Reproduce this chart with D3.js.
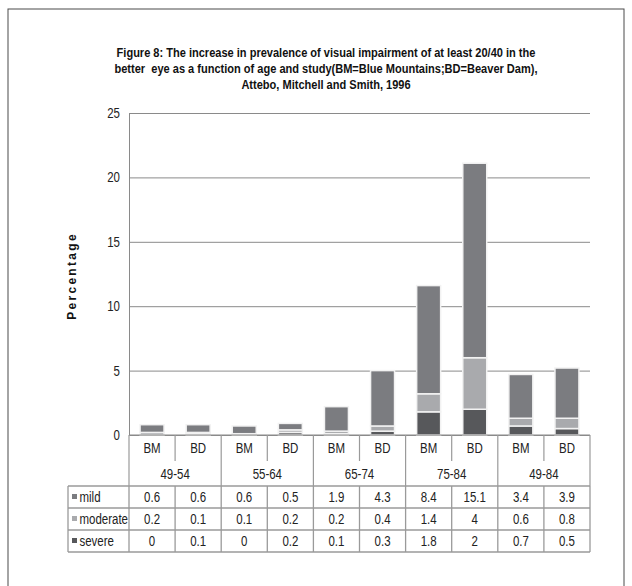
<!DOCTYPE html>
<html>
<head>
<meta charset="utf-8">
<script src="https://cdn.jsdelivr.net/npm/d3@7"></script>
<style>
  html, body { margin: 0; padding: 0; background: #fff; }
  svg { display: block; font-family: "Liberation Sans", Arial, sans-serif; }
</style>
</head>
<body>
<svg id="chart" width="632" height="586"></svg>
<script>
// ---- data ----
const groups = ["49-54", "55-64", "65-74", "75-84", "49-84"];
const studies = ["BM", "BD"];
const seriesNames = ["mild", "moderate", "severe"];
const mild     = [0.6, 0.6, 0.6, 0.5, 1.9, 4.3, 8.4, 15.1, 3.4, 3.9];
const moderate = [0.2, 0.1, 0.1, 0.2, 0.2, 0.4, 1.4, 4, 0.6, 0.8];
const severe   = [0, 0.1, 0, 0.2, 0.1, 0.3, 1.8, 2, 0.7, 0.5];
const yTicks = [0, 5, 10, 15, 20, 25];
const titleLines = [
  "Figure 8: The increase in prevalence of visual impairment of at least 20/40 in the",
  "better  eye as a function of age and study(BM=Blue Mountains;BD=Beaver Dam),",
  "Attebo, Mitchell and Smith, 1996"
];

(function () {
// ---- build ----
const colors = { mild: "#7b7c80", moderate: "#a9aaad", severe: "#57585b" };
const values = { mild, moderate, severe };
const rows = mild.map((m, i) => ({ idx: i, mild: m, moderate: moderate[i], severe: severe[i] }));
const FS = 14, SX = 0.82;
const tr = (px, py, sx) => `translate(${px},${py}) scale(${sx},1)`;

const svg = d3.select("#chart");
const pLeft = 129, pRight = 590, pTop = 113, pBase = 435;
const legendLeft = 68;

// outer frame
svg.append("rect").attr("x", 8).attr("y", 9).attr("width", 616).attr("height", 620)
  .attr("fill", "none").attr("stroke", "#4a4a4a").attr("stroke-width", 1);

// title
svg.append("g").selectAll("text").data(titleLines).join("text")
  .attr("transform", (d, i) => tr(326, 57 + i * 16, 0.85))
  .attr("text-anchor", "middle").attr("font-size", 13).attr("font-weight", "bold")
  .attr("fill", "#111").attr("xml:space", "preserve").text(d => d);

const x = d3.scaleBand().domain(d3.range(mild.length)).range([pLeft, pRight]).padding(0);
const y = d3.scaleLinear().domain([0, 25]).range([pBase, pTop]);

// y axis with gridlines
const yAxis = d3.axisLeft(y).tickValues(yTicks).tickSizeInner(-(pRight - pLeft)).tickSizeOuter(0).tickPadding(9);
const gy = svg.append("g").attr("transform", `translate(${pLeft},0)`).call(yAxis);
gy.selectAll(".tick line").attr("stroke", "#8a8a8a").attr("stroke-width", 1);
gy.select(".domain").attr("stroke", "#8a8a8a");
gy.selectAll(".tick text").attr("font-size", FS).attr("fill", "#222")
  .attr("font-family", "'Liberation Sans', Arial, sans-serif")
  .attr("x", null)
  .attr("transform", `translate(-9,0) scale(${SX},1)`);

// y label
svg.append("text").attr("transform", `translate(76,276) rotate(-90)`)
  .attr("text-anchor", "middle").attr("font-size", 12).attr("font-weight", "bold")
  .attr("letter-spacing", 2.3).attr("fill", "#111").text("Percentage");

// stacked bars
const stack = d3.stack().keys(["severe", "moderate", "mild"]);
const stacked = stack(rows);
const bw = x.bandwidth() * 0.52;
svg.append("g").selectAll("g").data(stacked).join("g")
  .attr("fill", d => colors[d.key])
  .selectAll("rect").data(d => d).join("rect")
  .attr("x", d => x(d.data.idx) + (x.bandwidth() - bw) / 2)
  .attr("y", d => y(d[1]))
  .attr("width", bw)
  .attr("height", d => Math.max(0, y(d[0]) - y(d[1])))
  .attr("stroke", "#f2f2f2").attr("stroke-width", 1.5);

// x axis line (redraw over bars)
const lineC = "#9a9a9a";
svg.append("line").attr("x1", pLeft).attr("x2", pRight).attr("y1", pBase).attr("y2", pBase)
  .attr("stroke", "#8a8a8a").attr("stroke-width", 1.2);

// category labels
const cat = svg.append("g");
cat.selectAll("text.st").data(d3.range(mild.length)).join("text")
  .attr("class", "st")
  .attr("transform", i => tr(x(i) + x.bandwidth() / 2, 453, SX))
  .attr("text-anchor", "middle").attr("font-size", FS).attr("fill", "#222")
  .text(i => studies[i % 2]);
cat.selectAll("text.gr").data(groups).join("text")
  .attr("class", "gr")
  .attr("transform", (g, gi) => tr(x(gi * 2) + x.bandwidth(), 478.5, SX))
  .attr("text-anchor", "middle").attr("font-size", FS).attr("fill", "#222")
  .text(g => g);
// separators within groups (short)
cat.selectAll("line.in").data(groups).join("line").attr("class", "in")
  .attr("x1", (g, gi) => x(gi * 2 + 1)).attr("x2", (g, gi) => x(gi * 2 + 1))
  .attr("y1", pBase).attr("y2", 461).attr("stroke", lineC).attr("stroke-width", 1.2);
// group boundaries
const bounds = d3.range(groups.length + 1).map(k => k < groups.length ? x(k * 2) : pRight);
cat.selectAll("line.gb").data(bounds).join("line").attr("class", "gb")
  .attr("x1", d => d).attr("x2", d => d)
  .attr("y1", pBase).attr("y2", 486).attr("stroke", lineC).attr("stroke-width", 1.2);

// data table
const rowTop = 486, rowH = 22;
const tbl = svg.append("g");
seriesNames.forEach((name, r) => {
  const yy = rowTop + r * rowH;
  tbl.append("line").attr("x1", legendLeft).attr("x2", pRight).attr("y1", yy).attr("y2", yy)
    .attr("stroke", lineC).attr("stroke-width", 1.3);
  tbl.append("rect").attr("x", 72).attr("y", yy + rowH / 2 - 3).attr("width", 5).attr("height", 5)
    .attr("fill", colors[name]);
  tbl.append("text").attr("transform", tr(79.5, yy + rowH / 2 + 5, SX))
    .attr("font-size", FS).attr("fill", "#222").text(name);
  tbl.selectAll(null).data(values[name]).join("text")
    .attr("transform", (v, i) => tr(x(i) + x.bandwidth() / 2, yy + rowH / 2 + 5, SX))
    .attr("text-anchor", "middle").attr("font-size", FS).attr("fill", "#222")
    .text(v => v);
});
const tblBottom = rowTop + seriesNames.length * rowH;
tbl.append("line").attr("x1", legendLeft).attr("x2", pRight).attr("y1", tblBottom).attr("y2", tblBottom)
  .attr("stroke", lineC).attr("stroke-width", 1.3);
const vlines = [legendLeft].concat(d3.range(mild.length).map(i => x(i)), [pRight]);
tbl.selectAll("line.v").data(vlines).join("line").attr("class", "v")
  .attr("x1", d => d).attr("x2", d => d).attr("y1", rowTop).attr("y2", tblBottom)
  .attr("stroke", lineC).attr("stroke-width", 1.3);
})();
</script>
</body>
</html>
